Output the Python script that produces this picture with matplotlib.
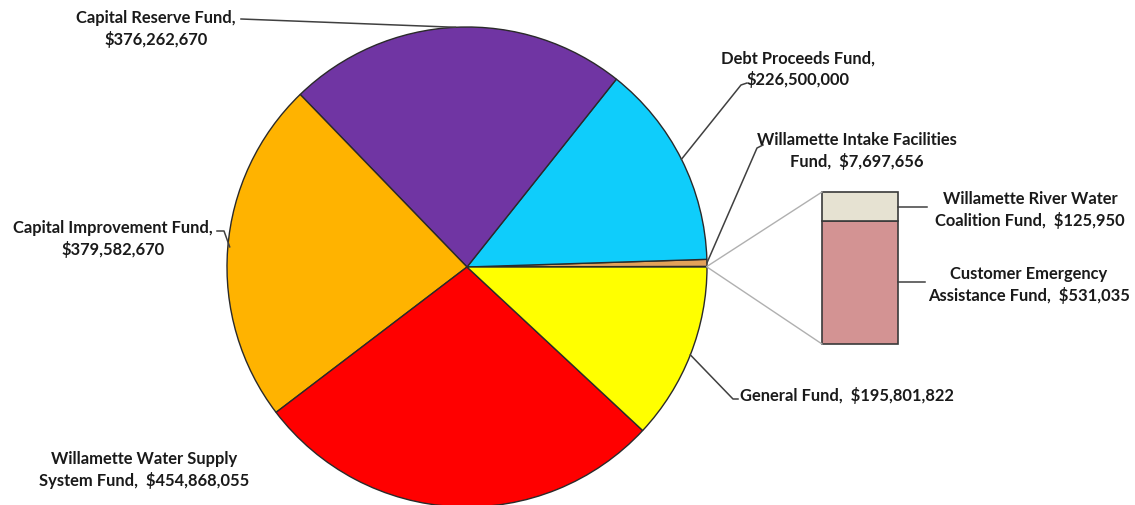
import numpy as np
import matplotlib.pyplot as plt

plt.rcParams['font.family'] = ['Lato', 'DejaVu Sans']

# fund balances, counterclockwise from 3 o'clock (Excel draws clockwise)
pie_labels = ['Other', 'Willamette Intake Facilities\nFund,  $7,697,656',
              'Debt Proceeds Fund,\n$226,500,000',
              'Capital Reserve Fund,\n$376,262,670',
              'Capital Improvement Fund,\n$379,582,670',
              'Willamette Water Supply\nSystem Fund,  $454,868,055',
              'General Fund,  $195,801,822']
bar_labels = ['Customer Emergency\nAssistance Fund,  $531,035',
              'Willamette River Water\nCoalition Fund,  $125,950']
bar_values = [531035, 125950]
pie_values = [sum(bar_values), 7697656, 226500000, 376262670,
              379582670, 454868055, 195801822]

pie_colors = ['#C98A8A', '#E3A25A', '#0FCDFB', '#7035A3', '#FFB300', '#FF0000', '#FFFF00']
bar_colors = ['#D39393', '#E6E2D2']

W, H = 1135, 506
fig = plt.figure(figsize=(W / 100, H / 100), dpi=100)
ax = fig.add_axes([0, 0, 1, 1])

cx, cy, r = 467, 238, 240
wedges, _ = ax.pie(pie_values, colors=pie_colors, startangle=0, counterclock=True,
                   center=(cx, cy), radius=r, frame=True,
                   wedgeprops=dict(edgecolor='#2a2a2a', linewidth=1.0))

def edge_pt(theta):
    t = np.deg2rad(theta)
    return cx + r * np.cos(t), cy + r * np.sin(t)

# stacked bar for the small funds
bx, bw, bh, by = 822, 76, 152, 161
scale = bh / sum(bar_values)
bottom = by
for v, c in zip(bar_values, bar_colors):
    ax.bar(bx + bw / 2, v * scale, width=bw, bottom=bottom, color=c,
           edgecolor='#3a3a3a', linewidth=1.2)
    bottom += v * scale

# connector lines from "Other" slice to the bar
w0 = wedges[0]
p1 = edge_pt(w0.theta1)
p2 = edge_pt(w0.theta2)
ax.plot([p1[0], bx], [p1[1], by], color='#b0b0b0', lw=1)
ax.plot([p2[0], bx], [p2[1], by + bh], color='#b0b0b0', lw=1)

tkw = dict(fontsize=11.9, fontweight='bold', color='#1a1a1a', linespacing=1.3)
lkw = dict(color='#404040', lw=1.1)

def mid(w):
    return edge_pt((w.theta1 + w.theta2) / 2)

# label positions (text anchor, leader elbow)
ax.text(156, H - 29, pie_labels[3], ha='center', va='center', **tkw)
m = mid(wedges[3])
ax.plot([241, m[0]], [H - 20, m[1]], **lkw)

ax.text(798, H - 69, pie_labels[2], ha='center', va='center', **tkw)
m = mid(wedges[2])
ax.plot([747, 741, m[0]], [H - 84, H - 86, m[1]], **lkw)

ax.text(857, H - 151, pie_labels[1], ha='center', va='center', **tkw)
m = mid(wedges[1])
ax.plot([763, 757, m[0]], [H - 146, H - 149, m[1]], **lkw)

ax.text(740, H - 395, pie_labels[6], ha='left', va='center', **tkw)
m = mid(wedges[6])
ax.plot([738, 733, m[0]], [H - 400, H - 400, m[1]], **lkw)

ax.text(113, H - 239, pie_labels[4], ha='center', va='center', **tkw)
m = mid(wedges[4])
ax.plot([217, 224, m[0] + 2], [H - 232, H - 232, m[1] + 2], **lkw)

ax.text(144, H - 470, pie_labels[5], ha='center', va='center', **tkw)

ax.text(1030, H - 210, bar_labels[1], ha='center', va='center', **tkw)
ax.plot([bx + bw, 927], [H - 208, H - 208], **lkw)
ax.text(1029, H - 285, bar_labels[0], ha='center', va='center', **tkw)
ax.plot([bx + bw, 925], [H - 283, H - 283], **lkw)

ax.set_xlim(0, W)
ax.set_ylim(0, H)
ax.set_aspect('auto')
ax.axis('off')

fig.savefig('out.png', dpi=100)
